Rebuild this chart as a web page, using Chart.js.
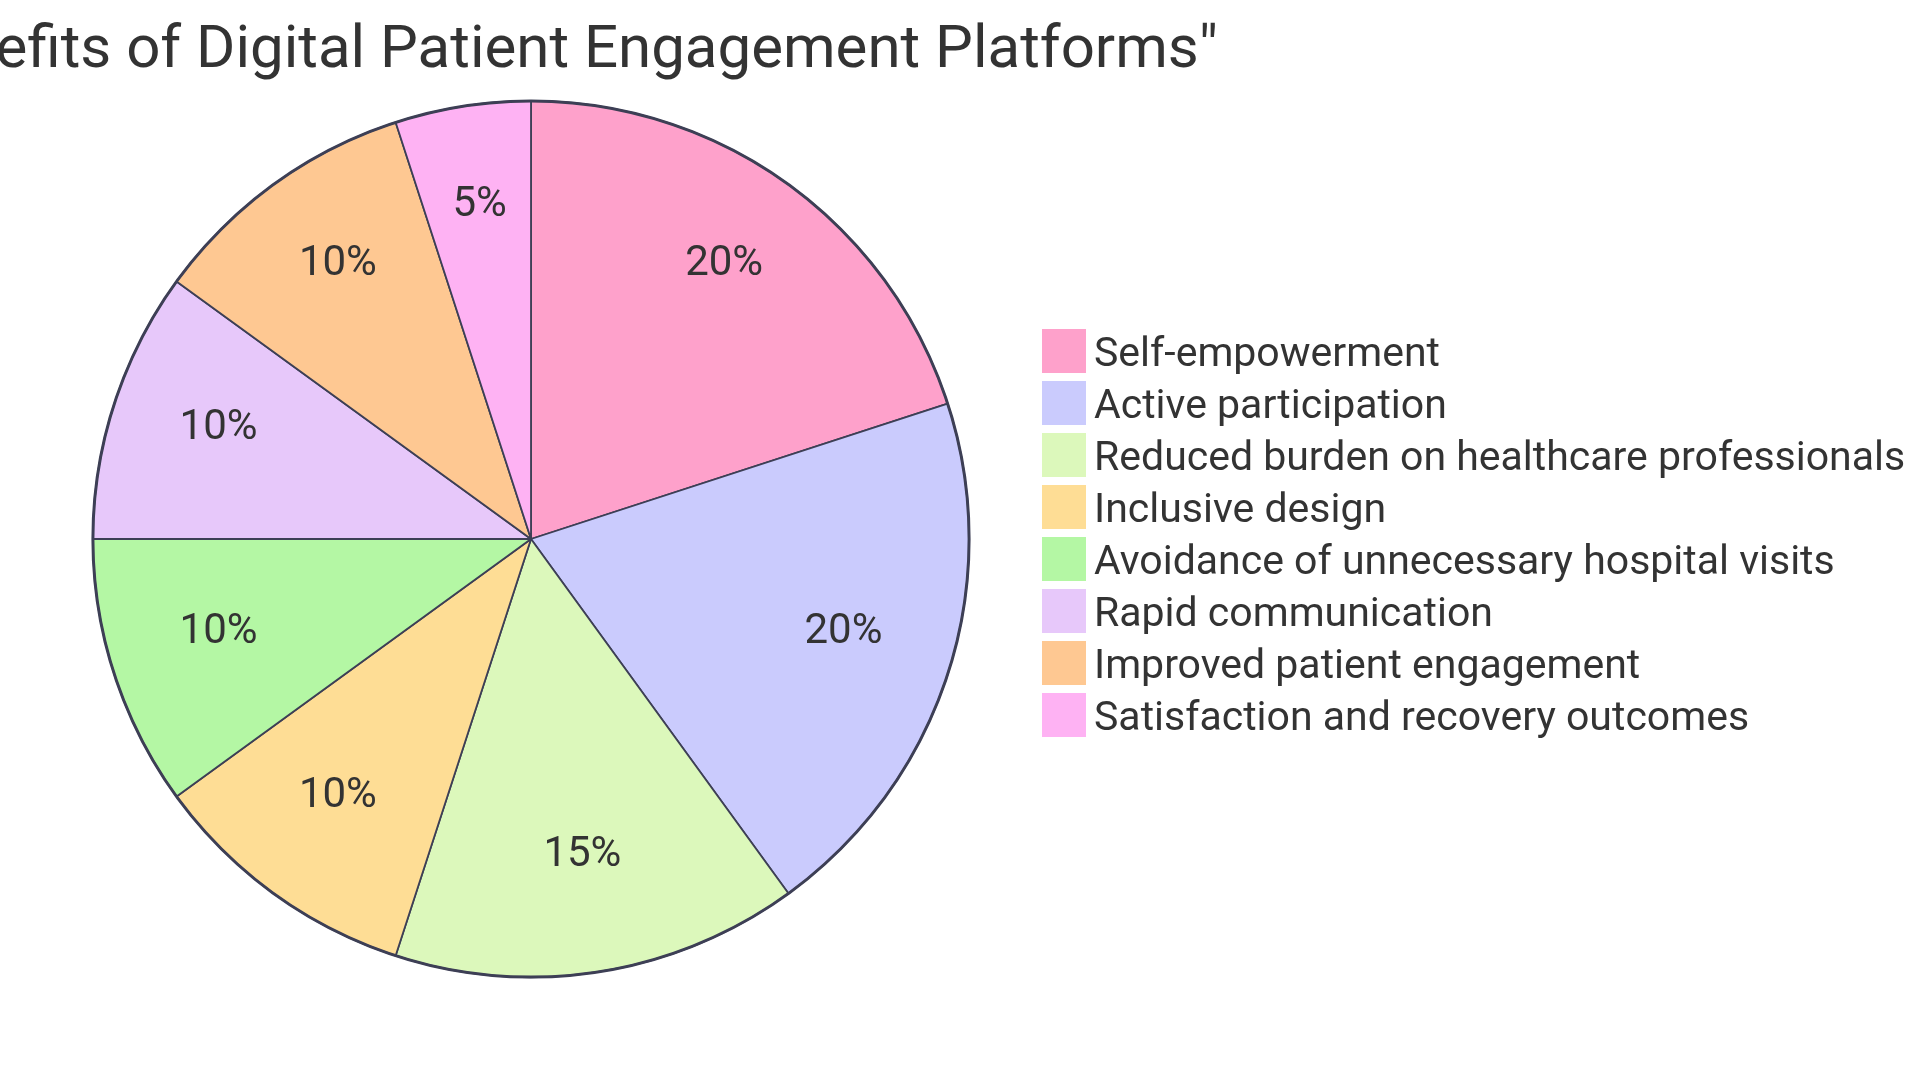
<!DOCTYPE html>
<html>
<head>
<meta charset="utf-8">
<script src="https://cdn.jsdelivr.net/npm/chart.js@4/dist/chart.umd.min.js"></script>
<style>
  html, body { margin: 0; padding: 0; background: #ffffff; overflow: hidden; }
  #wrap { position: absolute; left: 0; top: 0; width: 1920px; height: 1080px; }
</style>
</head>
<body>
<div id="wrap"><canvas id="c" width="1920" height="1080"></canvas></div>
<script>
const titleText = 'Benefits of Digital Patient Engagement Platforms"';
const categories = [
  'Self-empowerment',
  'Active participation',
  'Reduced burden on healthcare professionals',
  'Inclusive design',
  'Avoidance of unnecessary hospital visits',
  'Rapid communication',
  'Improved patient engagement',
  'Satisfaction and recovery outcomes'
];
const values = [20, 20, 15, 10, 10, 10, 10, 5];
const colors = ['#FEA1CB', '#CACBFD', '#DCF8BB', '#FEDD95', '#B4F7A4', '#E7C8FA', '#FEC892', '#FEB2F3'];

const FONT = 'Roboto, "Noto Sans", sans-serif';
const TEXT_COLOR = '#333333';
const STROKE = '#3d3f55';

const overlay = {
  id: 'overlay',
  afterDatasetsDraw(chart) {
    const ctx = chart.ctx;
    const meta = chart.getDatasetMeta(0);
    const total = values.reduce((a, b) => a + b, 0);
    // outer ring stroke
    const a0 = meta.data[0];
    ctx.save();
    ctx.beginPath();
    ctx.arc(a0.x, a0.y, a0.outerRadius, 0, Math.PI * 2);
    ctx.lineWidth = 3;
    ctx.strokeStyle = STROKE;
    ctx.stroke();
    ctx.restore();
    // percentage labels
    ctx.save();
    ctx.font = '42px ' + FONT;
    ctx.fillStyle = TEXT_COLOR;
    ctx.textAlign = 'center';
    ctx.textBaseline = 'alphabetic';
    meta.data.forEach((arc, i) => {
      const mid = (arc.startAngle + arc.endAngle) / 2;
      const r = arc.outerRadius * 0.75;
      const x = arc.x + Math.cos(mid) * r;
      const y = arc.y + Math.sin(mid) * r;
      ctx.fillText(Math.round(values[i] / total * 100) + '%', x, y + 2);
    });
    ctx.restore();
  },
  afterDraw(chart) {
    const ctx = chart.ctx;
    // title
    ctx.save();
    ctx.font = '60px ' + FONT;
    ctx.fillStyle = TEXT_COLOR;
    ctx.textAlign = 'right';
    ctx.textBaseline = 'alphabetic';
    ctx.fillText(titleText, 1218, 67);
    ctx.restore();
    // legend
    ctx.save();
    ctx.font = '41px ' + FONT;
    ctx.textAlign = 'left';
    ctx.textBaseline = 'alphabetic';
    categories.forEach((lab, i) => {
      const cy = 351 + i * 52;
      ctx.fillStyle = colors[i];
      ctx.fillRect(1042, cy - 22, 44, 44);
      ctx.fillStyle = TEXT_COLOR;
      ctx.fillText(lab, 1094, cy + 15);
    });
    ctx.restore();
  }
};

new Chart(document.getElementById('c'), {
  type: 'pie',
  data: {
    labels: categories,
    datasets: [{
      data: values,
      backgroundColor: colors,
      borderColor: STROKE,
      borderWidth: 1.8,
      borderAlign: 'center'
    }]
  },
  options: {
    responsive: false,
    animation: false,
    events: [],
    layout: { padding: { left: 92, top: 100, right: 950, bottom: 102 } },
    plugins: {
      legend: { display: false },
      title: { display: false },
      tooltip: { enabled: false }
    }
  },
  plugins: [overlay]
});
</script>
</body>
</html>
